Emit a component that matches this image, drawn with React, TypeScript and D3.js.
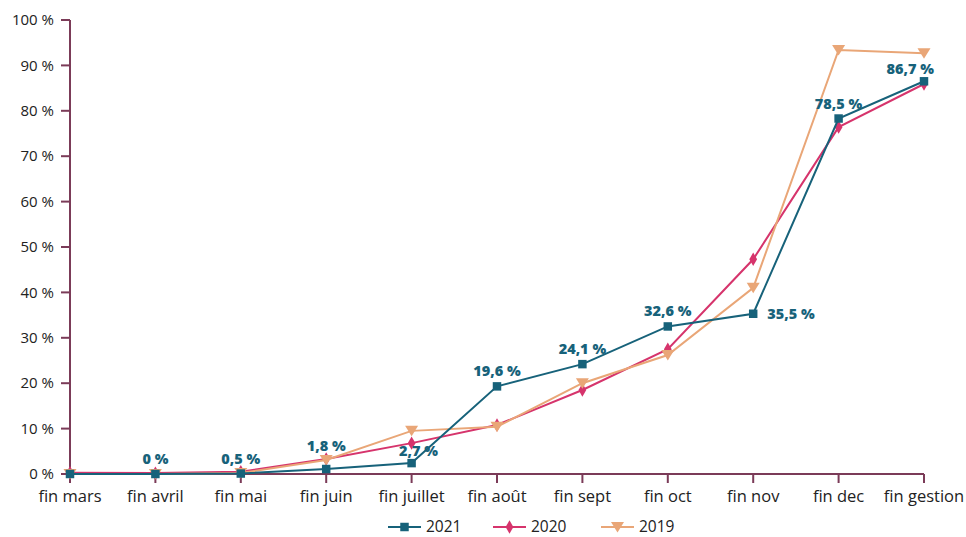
import React from "react";
import * as d3 from "d3";

const categories = ["fin mars", "fin avril", "fin mai", "fin juin", "fin juillet", "fin août", "fin sept", "fin oct", "fin nov", "fin dec", "fin gestion"];
const yTicks = [0, 10, 20, 30, 40, 50, 60, 70, 80, 90, 100];
const values2021 = [0, 0, 0.1, 1.1, 2.4, 19.3, 24.2, 32.5, 35.3, 78.3, 86.5];
const values2020 = [0.3, 0.2, 0.5, 3.3, 6.8, 10.8, 18.5, 27.5, 47.3, 76.4, 85.9];
const values2019 = [0, 0, 0.2, 3.1, 9.5, 10.4, 20.0, 26.2, 41.0, 93.4, 92.7];
const labels2021 = ["", "0 %", "0,5 %", "1,8 %", "2,7 %", "19,6 %", "24,1 %", "32,6 %", "35,5 %", "78,5 %", "86,7 %"];
const seriesNames = ["2021", "2020", "2019"];

const W = 966, H = 537;
const FONT = "'Open Sans', sans-serif";
const AXIS = "#7b3b58";
const C2021 = "#17627a";
const C2020 = "#d6346c";
const C2019 = "#e9a677";

export default function App() {
  const x = d3.scalePoint<string>().domain(categories).range([70, 924]);
  const y = d3.scaleLinear().domain([0, 100]).range([474, 20]);
  const line = d3.line<number>().x((_, i) => x(categories[i])!).y((d) => y(d));

  const square = d3.symbol().type(d3.symbolSquare).size(72)()!;
  const diamond = d3.symbol().type(d3.symbolDiamond).size(52)()!;
  const tri = "M-6.5,-5L6.5,-5L0,5.5Z";

  const series = [
    { name: "2020", vals: values2020, color: C2020, marker: diamond },
    { name: "2019", vals: values2019, color: C2019, marker: tri },
    { name: "2021", vals: values2021, color: C2021, marker: square },
  ];

  const legend = [
    { name: seriesNames[0], color: C2021, marker: square, x: 388 },
    { name: seriesNames[1], color: C2020, marker: diamond, x: 493 },
    { name: seriesNames[2], color: C2019, marker: tri, x: 601 },
  ];
  const LY = 527;

  return (
    <svg width={W} height={H} style={{ position: "absolute", left: 0, top: 0, background: "#fff" }} fontFamily={FONT}>
      <line x1={70} x2={70} y1={y(100)} y2={y(0)} stroke={AXIS} strokeWidth={2} />
      {yTicks.map((t) => (
        <g key={t}>
          <line x1={61} x2={70} y1={y(t)} y2={y(t)} stroke={AXIS} strokeWidth={2} />
          <text x={54} y={y(t)} dy="0.35em" textAnchor="end" fontSize={15} fill="#222">{`${t} %`}</text>
        </g>
      ))}
      <line x1={70} x2={924} y1={y(0)} y2={y(0)} stroke={AXIS} strokeWidth={2} />
      {categories.map((c) => (
        <g key={c}>
          <line x1={x(c)} x2={x(c)} y1={y(0)} y2={y(0) + 9} stroke={AXIS} strokeWidth={2} />
          <text x={x(c)} y={502} textAnchor="middle" fontSize={16.5} fill="#222">{c}</text>
        </g>
      ))}
      {series.map((s) => (
        <g key={s.name}>
          <path d={line(s.vals)!} fill="none" stroke={s.color} strokeWidth={2} />
          {s.vals.map((v, i) => (
            <path key={i} d={s.marker} transform={`translate(${x(categories[i])},${y(v)})`} fill={s.color} />
          ))}
        </g>
      ))}
      {labels2021.map((l, i) => {
        if (!l) return null;
        const px = x(categories[i])!;
        const py = y(values2021[i]);
        let tx = px, ty = py - 10, anchor: any = "middle";
        if (categories[i] === "fin nov") { tx = px + 14; ty = py + 5; anchor = "start"; }
        if (categories[i] === "fin gestion") { tx = px + 10; ty = py - 7; anchor = "end"; }
        if (categories[i] === "fin juin") { ty = py - 18; }
        if (categories[i] === "fin juillet") { tx = px + 7; ty = py - 7; }
        return (
          <text key={i} x={tx} y={ty} textAnchor={anchor} fontSize={14.5} fontWeight={800} fill={C2021}>{l}</text>
        );
      })}
      {legend.map((lg) => (
        <g key={lg.name}>
          <line x1={lg.x} x2={lg.x + 33} y1={LY} y2={LY} stroke={lg.color} strokeWidth={2} />
          <path d={lg.marker} transform={`translate(${lg.x + 16.5},${LY})`} fill={lg.color} />
          <text x={lg.x + 38} y={LY} dy="0.35em" fontSize={15.5} fill="#222">{lg.name}</text>
        </g>
      ))}
    </svg>
  );
}
